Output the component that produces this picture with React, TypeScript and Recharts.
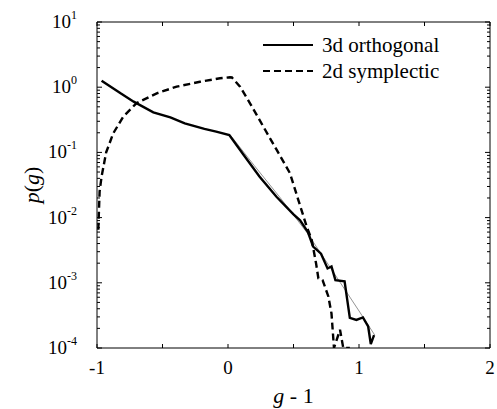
import React from "react";
import { LineChart, Line, XAxis, YAxis, Legend } from "recharts";

// 3d orthogonal ensemble
const orthoG = [
  -0.965, -0.82, -0.72, -0.57, -0.44, -0.33, -0.18, -0.09, 0.01, 0.12, 0.24,
  0.37, 0.5, 0.55, 0.61, 0.65, 0.71, 0.76, 0.79, 0.82, 0.89, 0.93, 0.98, 1.03,
  1.07, 1.09, 1.115,
];
const orthoP = [
  1.26, 0.805, 0.6, 0.412, 0.345, 0.279, 0.229, 0.208, 0.185, 0.0912, 0.0427,
  0.0209, 0.0112, 0.0091, 0.006, 0.0036, 0.0028, 0.00166, 0.00178, 0.0011,
  0.00105, 0.00029, 0.00027, 0.000295, 0.000214, 0.000115, 0.000158,
];

// 2d symplectic ensemble
const sympG = [
  -0.99, -0.98, -0.965, -0.93, -0.876, -0.8, -0.7, -0.544, -0.392, -0.214,
  -0.061, 0.015, 0.03, 0.092, 0.168, 0.27, 0.372, 0.473, 0.537, 0.601, 0.639,
  0.672, 0.69, 0.722, 0.766, 0.79, 0.809, 0.855, 0.88, 0.93,
];
const sympP = [
  0.0065, 0.0251, 0.0427, 0.1, 0.196, 0.353, 0.566, 0.805, 1.02, 1.21, 1.37,
  1.42, 1.41, 1.02, 0.566, 0.248, 0.109, 0.0479, 0.0186, 0.00724, 0.00457,
  0.002, 0.00117, 0.0011, 0.000617, 0.000339, 0.0001, 0.00019, 0.0001, 0.0001,
];

// thin reference curve
const fitG = [0.02, 0.2, 0.4, 0.6, 0.8, 1.0, 1.12];
const fitP = [0.182, 0.063, 0.02, 0.006, 0.0015, 0.00037, 0.000158];

const seriesNames = ["3d orthogonal", "2d symplectic"];
const xTicks = [-1, -0.5, 0, 0.5, 1, 1.5, 2];
const decades = [-4, -3, -2, -1, 0, 1];
const minorSteps = [2, 3, 4, 5, 6, 7, 8, 9];

const yTicks: number[] = [];
decades.forEach((d) => {
  yTicks.push(Math.pow(10, d));
  if (d < 1) minorSteps.forEach((k) => yTicks.push(k * Math.pow(10, d)));
});

const ortho = orthoG.map((g, i) => ({ g, p: orthoP[i] }));
const symp = sympG.map((g, i) => ({ g, p: sympP[i] }));
const fit = fitG.map((g, i) => ({ g, p: fitP[i] }));

const dashes: Record<string, string | undefined> = {
  "3d orthogonal": undefined,
  "2d symplectic": "7 4",
};

const isDecade = (v: number) =>
  Math.abs(Math.log10(v) - Math.round(Math.log10(v))) < 1e-6;

// text inherits the page's default (Times-like) font
function LeftTick(props: any) {
  const { x, y, payload } = props;
  const v = payload.value;
  const major = isDecade(v);
  return (
    <g>
      <line x1={x} x2={x + (major ? 5 : 3)} y1={y} y2={y} stroke="#000" strokeWidth={1} />
      {major && (
        <text x={x - 20} y={y + 6} textAnchor="end" fontSize={19} fill="#000">
          10
          <tspan dy={-9} fontSize={12}>
            {Math.round(Math.log10(v))}
          </tspan>
        </text>
      )}
    </g>
  );
}

function RightTick(props: any) {
  const { x, y, payload } = props;
  const major = isDecade(payload.value);
  return <line x1={x} x2={x - (major ? 5 : 3)} y1={y} y2={y} stroke="#000" strokeWidth={1} />;
}

function BottomTick(props: any) {
  const { x, y, payload } = props;
  const v = payload.value;
  return (
    <g>
      <line x1={x} x2={x} y1={y} y2={y - 4} stroke="#000" strokeWidth={1} />
      {Number.isInteger(v) && (
        <text x={x} y={y + 26} textAnchor="middle" fontSize={19} fill="#000">
          {v}
        </text>
      )}
    </g>
  );
}

function TopTick(props: any) {
  const { x, y } = props;
  return <line x1={x} x2={x} y1={y} y2={y + 4} stroke="#000" strokeWidth={1} />;
}

function XTitle(props: any) {
  const vb = props.viewBox;
  return (
    <text x={vb.x + vb.width / 2} y={vb.y + 55} textAnchor="middle" fontSize={22} fill="#000">
      <tspan fontStyle="italic">g</tspan> - 1
    </text>
  );
}

function YTitle(props: any) {
  const vb = props.viewBox;
  const cx = 31;
  const cy = vb.y + vb.height / 2;
  return (
    <text
      x={cx}
      y={cy}
      transform={`rotate(-90 ${cx} ${cy})`}
      textAnchor="middle"
      dominantBaseline="central"
      fontSize={22}
      fill="#000"
    >
      <tspan fontStyle="italic">p</tspan>(<tspan fontStyle="italic">g</tspan>)
    </text>
  );
}

function LegendBox(props: any) {
  const items = seriesNames.filter((n) => (props.payload || []).some((e: any) => e.value === n));
  return (
    <div style={{ fontSize: 21, lineHeight: "26px", color: "#000" }}>
      {items.map((name) => (
        <div key={name} style={{ display: "flex", alignItems: "center", whiteSpace: "nowrap" }}>
          <svg width={50} height={10}>
            <line x1={0} x2={50} y1={5} y2={5} stroke="#000" strokeWidth={2.2} strokeDasharray={dashes[name]} />
          </svg>
          <span style={{ marginLeft: 9 }}>{name}</span>
        </div>
      ))}
    </div>
  );
}

export default function App() {
  return (
    // pinned to the corner so the page never grows a scrollbar
    <div style={{ position: "absolute", left: 0, top: 0 }}>
      <LineChart width={497} height={409} margin={{ top: 21, right: 6, bottom: 0, left: 0 }}>
        <XAxis
          xAxisId="b"
          dataKey="g"
          type="number"
          domain={[-1, 2]}
          ticks={xTicks}
          interval={0}
          height={61}
          tickSize={0}
          tickMargin={0}
          tick={BottomTick}
          stroke="#000"
          allowDataOverflow
          label={{ content: XTitle }}
        />
        <XAxis
          xAxisId="t"
          dataKey="g"
          orientation="top"
          type="number"
          domain={[-1, 2]}
          ticks={xTicks}
          interval={0}
          height={1}
          tickSize={0}
          tickMargin={0}
          tick={TopTick}
          stroke="#000"
          allowDataOverflow
        />
        <YAxis
          yAxisId="l"
          scale="log"
          type="number"
          domain={[1e-4, 10]}
          ticks={yTicks}
          interval={0}
          width={97}
          tickSize={0}
          tickMargin={0}
          tick={LeftTick}
          stroke="#000"
          allowDataOverflow
          label={{ content: YTitle }}
        />
        <YAxis
          yAxisId="r"
          orientation="right"
          scale="log"
          type="number"
          domain={[1e-4, 10]}
          ticks={yTicks}
          interval={0}
          width={1}
          tickSize={0}
          tickMargin={0}
          tick={RightTick}
          stroke="#000"
          allowDataOverflow
        />
        <Legend
          layout="horizontal"
          verticalAlign="middle"
          align="center"
          content={LegendBox}
          wrapperStyle={{ position: "absolute", left: 263, top: 32, width: "auto" }}
        />
        {/* invisible copy of the reference curve so the top/right frame axes get a domain */}
        <Line
          xAxisId="t"
          yAxisId="r"
          data={fit}
          dataKey="p"
          stroke="none"
          dot={false}
          legendType="none"
          isAnimationActive={false}
        />
        <Line
          xAxisId="b"
          yAxisId="l"
          data={fit}
          dataKey="p"
          stroke="#777"
          strokeWidth={0.8}
          dot={false}
          legendType="none"
          isAnimationActive={false}
        />
        <Line
          xAxisId="b"
          yAxisId="l"
          data={ortho}
          dataKey="p"
          name="3d orthogonal"
          stroke="#000"
          strokeWidth={2.4}
          dot={false}
          isAnimationActive={false}
        />
        <Line
          xAxisId="b"
          yAxisId="l"
          data={symp}
          dataKey="p"
          name="2d symplectic"
          stroke="#000"
          strokeWidth={2.4}
          strokeDasharray="7 4"
          dot={false}
          isAnimationActive={false}
        />
      </LineChart>
    </div>
  );
}
